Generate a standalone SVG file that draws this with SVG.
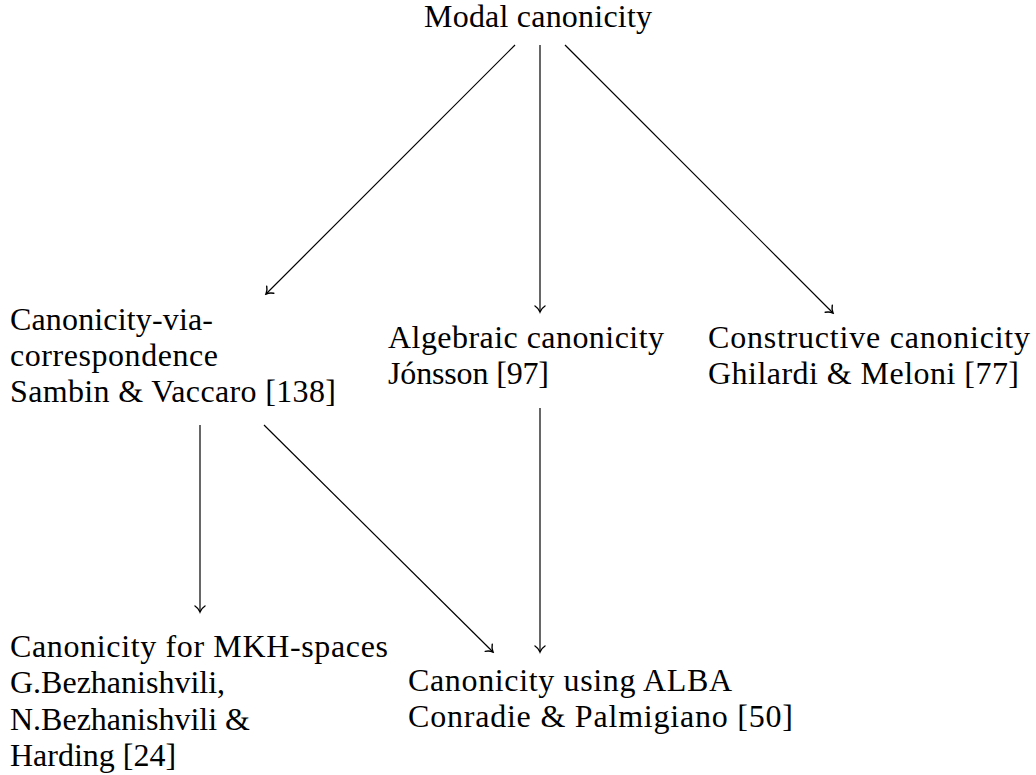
<svg xmlns="http://www.w3.org/2000/svg" width="1036" height="775" viewBox="0 0 1036 775">
<style>
  text { font-family: 'Liberation Serif', 'Times New Roman', 'DejaVu Serif', serif; font-size: 32px; fill: #000; }
  .edge { stroke: #000; stroke-width: 1.2; fill: none; marker-end: url(#to); }
</style>
<defs>
  <marker id="to" viewBox="-8 -6 10 12" markerWidth="10" markerHeight="12" refX="0" refY="0" orient="auto" markerUnits="userSpaceOnUse">
    <path d="M-6,-5 C-4,-2 -1.5,-0.6 0,0 C-1.5,0.6 -4,2 -6,5" stroke="#000" stroke-width="1.4" fill="none" stroke-linecap="round"/>
  </marker>
</defs>
<rect width="1036" height="775" fill="#fff"/>
<g id="connectors">
  <line class="edge" x1="515" y1="45" x2="266" y2="294"/>
  <line class="edge" x1="540" y1="45" x2="540" y2="312"/>
  <line class="edge" x1="565" y1="45" x2="833" y2="313"/>
  <line class="edge" x1="200" y1="425" x2="200" y2="612"/>
  <line class="edge" x1="264" y1="425" x2="493" y2="652"/>
  <line class="edge" x1="540" y1="408" x2="540" y2="652"/>
</g>
<g id="modal">
  <text x="424" y="27" textLength="228">Modal canonicity</text>
</g>
<g id="via-correspondence">
  <text x="10" y="330" textLength="203">Canonicity-via-</text>
  <text x="10" y="366" textLength="208">correspondence</text>
  <text x="10" y="402" textLength="326">Sambin &amp; Vaccaro [138]</text>
</g>
<g id="algebraic">
  <text x="388" y="348" textLength="276">Algebraic canonicity</text>
  <text x="388" y="384" textLength="161">Jónsson [97]</text>
</g>
<g id="constructive">
  <text x="708" y="348" textLength="322">Constructive canonicity</text>
  <text x="708" y="384" textLength="311">Ghilardi &amp; Meloni [77]</text>
</g>
<g id="mkh">
  <text x="10" y="657" textLength="378">Canonicity for MKH-spaces</text>
  <text x="10" y="693">G.Bezhanishvili,</text>
  <text x="10" y="730">N.Bezhanishvili &amp;</text>
  <text x="10" y="766">Harding [24]</text>
</g>
<g id="alba">
  <text x="408" y="691" textLength="324">Canonicity using ALBA</text>
  <text x="408" y="727" textLength="385">Conradie &amp; Palmigiano [50]</text>
</g>
</svg>
